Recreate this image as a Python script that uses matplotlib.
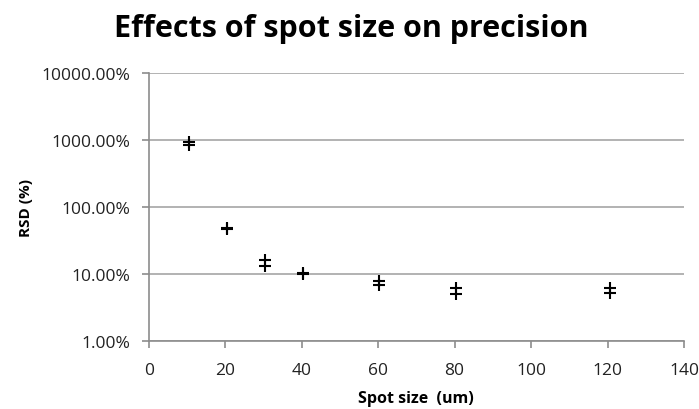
import numpy as np
import matplotlib.pyplot as plt
from matplotlib.ticker import PercentFormatter, FixedLocator, NullLocator

# spot size (um) and RSD (fraction), two runs per spot size
spot_size = [10.6, 10.6, 20.6, 20.6, 30.5, 30.5, 40.4, 40.4,
             60.2, 60.2, 80.4, 80.4, 120.6, 120.6]
rsd = [9.4, 8.4, 0.47, 0.48, 0.163, 0.133, 0.103, 0.101,
       0.079, 0.069, 0.061, 0.050, 0.061, 0.052]

y_ticks = [0.01, 0.1, 1, 10, 100]
x_ticks = [0, 20, 40, 60, 80, 100, 120, 140]

plt.rcParams['font.family'] = ['Open Sans', 'DejaVu Sans']
grey = '#8c8c8c'

fig = plt.figure(figsize=(6.99, 4.10), dpi=100)
ax = fig.add_axes([0.2127, 0.1659, 0.7658, 0.6536])

ax.plot(spot_size, rsd, '+', color='black', ms=9, mew=1.5)

ax.set_yscale('log')
ax.set_ylim(0.01, 100)
ax.set_xlim(0, 140)
ax.yaxis.set_major_locator(FixedLocator(y_ticks))
ax.yaxis.set_minor_locator(NullLocator())
ax.yaxis.set_major_formatter(PercentFormatter(xmax=1, decimals=2))
ax.set_xticks(x_ticks)

ax.grid(axis='y', color='#a6a6a6', lw=1.2)
ax.set_axisbelow(True)
for s in ['top', 'right']:
    ax.spines[s].set_visible(False)
for s in ['left', 'bottom']:
    ax.spines[s].set_color(grey)
    ax.spines[s].set_linewidth(1.2)
ax.tick_params(axis='both', color=grey, width=1.2, length=5, labelsize=12.5,
               labelcolor='#222222')
ax.tick_params(axis='y', pad=8)
ax.tick_params(axis='x', pad=10)

fig.text(0.503, 0.93, 'Effects of spot size on precision', ha='center',
         va='center', fontsize=22, fontweight='bold')
ax.set_xlabel('Spot size  (um)', fontsize=11.5, fontweight='bold', labelpad=9)
ax.set_ylabel('RSD (%)', fontsize=11, fontweight='bold', labelpad=6)

fig.savefig('out.png', dpi=100)
